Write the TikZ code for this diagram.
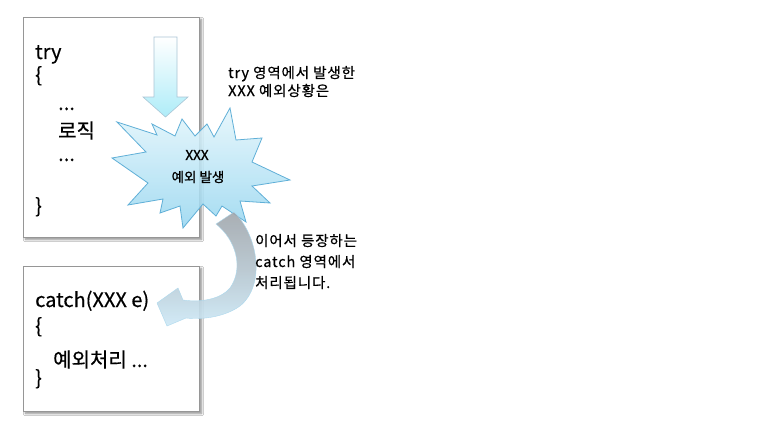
\documentclass[tikz,border=0pt]{standalone}
\usepackage{fontspec}
\setmainfont{Noto Sans CJK KR}
\newfontfamily\notefont[LetterSpace=6,FakeBold=0.6]{Noto Sans CJK KR}
\newfontfamily\burstfont[FakeBold=1.2]{Noto Sans CJK KR}
\newfontfamily\codefont[FakeBold=0.4]{Noto Sans CJK KR}
\usetikzlibrary{shadows.blur}
\definecolor{boxline}{RGB}{150,150,150}
\definecolor{burstline}{RGB}{95,175,215}
\definecolor{burstlight}{RGB}{228,246,252}
\definecolor{burstdark}{RGB}{150,214,240}
\definecolor{arrowgray}{RGB}{160,166,172}
\definecolor{arrowblue}{RGB}{205,233,247}
\definecolor{downline}{RGB}{170,198,214}
\begin{document}
\begin{tikzpicture}[x=1pt,y=-1pt,
  codebox/.style={draw=boxline, line width=0.9pt, fill=white, inner sep=0pt,
    blur shadow={shadow xshift=2.5pt, shadow yshift=-2.5pt, shadow blur steps=6, shadow opacity=45}},
  codetext/.style={anchor=base west, inner sep=0pt, font=\codefont\fontsize{20}{24}\selectfont},
  note/.style={anchor=base west, inner sep=0pt, font=\notefont\fontsize{14.5}{17}\selectfont},
  bursttext/.style={inner sep=0pt, font=\burstfont\fontsize{13.5}{16}\selectfont}]
\useasboundingbox (0,0) rectangle (763,436);
\fill[white] (0,0) rectangle (763,436);

% code boxes
\node[codebox, minimum width=176pt, minimum height=220pt] (trybox) at (111,127) {};
\node[codebox, minimum width=176pt, minimum height=145pt] (catchbox) at (111,338.5) {};

% try box text
\node[codetext] (t1) at (35,59) {try};
\node[codetext] (t2) at (35,82) {\{};
\node[codetext] (t3) at (58,110) {...};
\node[codetext] (t4) at (58,138) {로직};
\node[codetext] (t5) at (58,161) {...};
\node[codetext] (t6) at (35,213) {\}};

% catch box text
\node[codetext] (c1) at (35,307) {catch(XXX e)};
\node[codetext] (c2) at (35,333) {\{};
\node[codetext] (c3) at (53,367) {예외처리 ...};
\node[codetext] (c4) at (35,385) {\}};

% down block arrow
\shade[top color=white, bottom color=arrowblue!85!cyan, draw=downline, line width=0.6pt]
  (154,37) -- (177,37) -- (177,97) -- (188,97) -- (165.5,117) -- (143,97) -- (154,97) -- cycle;

% starburst
\shade[top color=burstlight, bottom color=burstdark, draw=burstline, line width=0.8pt, fill opacity=0.85]
  (230,108) -- (236,140) -- (262,138) -- (252,162) -- (290,180) -- (252,186)
  -- (270,203) -- (240,201) -- (246,222) -- (222,206) -- (216,216) -- (203,204)
  -- (183,228) -- (180,206) -- (160,213) -- (163,199) -- (128,205) -- (148,183)
  -- (112,158) -- (146,152) -- (117,122) -- (157,135) -- (152,124) -- (175,136)
  -- (182,119) -- (195,136) -- (207,124) -- (214,137) -- cycle;
\node[bursttext] (b1) at (197,155) {XXX};
\node[bursttext] (b2) at (198,177) {예외 발생};

% curved arrow from burst to catch
\shade[top color=arrowgray, bottom color=arrowblue, middle color=arrowgray!55!arrowblue,
  draw=arrowblue!70!burstline, line width=0.4pt, fill opacity=0.9]
  (216,224) -- (234,212)
  .. controls (258,235) and (266,285) .. (240,306)
  .. controls (226,316) and (205,320) .. (186,318)
  -- (167,326) -- (157,303) -- (178,288)
  -- (183,300)
  .. controls (203,303) and (222,298) .. (230,288)
  .. controls (244,268) and (236,240) .. (216,224) -- cycle;

% annotations
\node[note] (n1) at (228,78) {try 영역에서 발생한};
\node[note] (n2) at (228,96) {XXX 예외상황은};
\node[note] (n3) at (255,246) {이어서 등장하는};
\node[note] (n4) at (255,267) {catch 영역에서};
\node[note] (n5) at (255,288) {처리됩니다.};
\end{tikzpicture}
\end{document}
